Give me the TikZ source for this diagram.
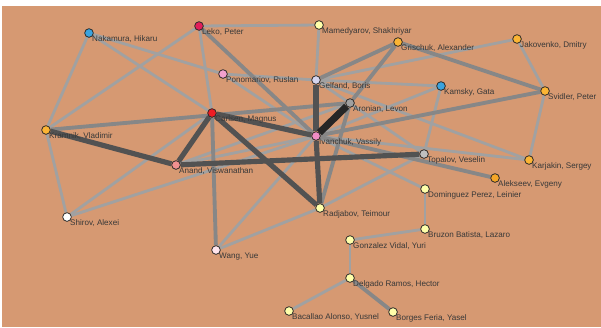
\documentclass[tikz,border=0pt]{standalone}
\usepackage{fontspec}
\usetikzlibrary{backgrounds}
\newfontfamily\labfont{Liberation Sans}
\definecolor{bgc}{RGB}{214,153,114}
\definecolor{lblue}{RGB}{59,163,222}
\definecolor{crim}{RGB}{226,30,90}
\definecolor{rred}{RGB}{238,28,36}
\definecolor{lyel}{RGB}{255,255,170}
\definecolor{oyel}{RGB}{251,180,52}
\definecolor{oran}{RGB}{245,166,40}
\definecolor{lpink}{RGB}{242,160,206}
\definecolor{mpink}{RGB}{240,140,196}
\definecolor{lilac}{RGB}{212,212,238}
\definecolor{mgrey}{RGB}{160,160,160}
\definecolor{lgrey}{RGB}{192,192,192}
\definecolor{salm}{RGB}{240,144,144}
\definecolor{wpink}{RGB}{255,228,236}

\begin{document}
\begin{tikzpicture}[x=0.03cm,y=-0.03cm]
    \tikzset{
    pl/.style={circle,minimum size=7.4pt,inner sep=0pt,draw=black!85,line width=0.65pt},
    lab/.style={anchor=base west,inner sep=0pt,text=black!78,font=\labfont\fontsize{6.9}{8}\selectfont},
    e1/.style={draw=black!37,line width=2.4pt},
    e2/.style={draw=black!47,line width=3.3pt},
    e3/.style={draw=black!68,line width=4.4pt},
    e4/.style={draw=black!85,line width=6pt},
    }
    \useasboundingbox (0,0) rectangle (601,327);

    \node[pl,fill=lblue] (nak) at (89,33) {};
    \node[pl,fill=crim] (leko) at (199,26) {};
    \node[pl,fill=lyel] (mame) at (319,25) {};
    \node[pl,fill=oyel] (gris) at (398,42) {};
    \node[pl,fill=oyel] (jako) at (517,39) {};
    \node[pl,fill=lpink] (pono) at (223,74) {};
    \node[pl,fill=lilac] (gelf) at (316,80) {};
    \node[pl,fill=lblue] (kams) at (441,86) {};
    \node[pl,fill=oyel] (svid) at (545,91) {};
    \node[pl,fill=mgrey] (aron) at (350,103) {};
    \node[pl,fill=rred] (carl) at (212,113) {};
    \node[pl,fill=oyel] (kram) at (46,130) {};
    \node[pl,fill=mpink] (ivan) at (316,136) {};
    \node[pl,fill=lgrey] (topa) at (424,154) {};
    \node[pl,fill=oyel] (karj) at (529,160) {};
    \node[pl,fill=salm] (anan) at (176,165) {};
    \node[pl,fill=oran] (alek) at (495,178) {};
    \node[pl,fill=lyel] (domi) at (425,189) {};
    \node[pl,fill=lyel] (radj) at (320,208) {};
    \node[pl,fill=white] (shir) at (67,217) {};
    \node[pl,fill=lyel] (bruz) at (425,229) {};
    \node[pl,fill=lyel] (gonz) at (350,240) {};
    \node[pl,fill=wpink] (wang) at (216,250) {};
    \node[pl,fill=lyel] (delg) at (350,278) {};
    \node[pl,fill=lyel] (baca) at (289,311) {};
    \node[pl,fill=lyel] (borg) at (393,312) {};

    \node[lab] (nakL) at (92,41) {Nakamura, Hikaru};
    \node[lab] (lekoL) at (202,34) {Leko, Peter};
    \node[lab] (mameL) at (322,33) {Mamedyarov, Shakhriyar};
    \node[lab] (grisL) at (401,50) {Grischuk, Alexander};
    \node[lab] (jakoL) at (520,47) {Jakovenko, Dmitry};
    \node[lab] (ponoL) at (226,82) {Ponomariov, Ruslan};
    \node[lab] (gelfL) at (319,88) {Gelfand, Boris};
    \node[lab] (kamsL) at (444,94) {Kamsky, Gata};
    \node[lab] (svidL) at (548,99) {Svidler, Peter};
    \node[lab] (aronL) at (353,111) {Aronian, Levon};
    \node[lab] (carlL) at (215,121) {Carlsen, Magnus};
    \node[lab] (kramL) at (49,138) {Kramnik, Vladimir};
    \node[lab] (ivanL) at (319,144) {Ivanchuk, Vassily};
    \node[lab] (topaL) at (427,162) {Topalov, Veselin};
    \node[lab] (karjL) at (532,168) {Karjakin, Sergey};
    \node[lab] (ananL) at (179,173) {Anand, Viswanathan};
    \node[lab] (alekL) at (498,186) {Alekseev, Evgeny};
    \node[lab] (domiL) at (428,197) {Dominguez Perez, Leinier};
    \node[lab] (radjL) at (323,216) {Radjabov, Teimour};
    \node[lab] (shirL) at (70,225) {Shirov, Alexei};
    \node[lab] (bruzL) at (428,237) {Bruzon Batista, Lazaro};
    \node[lab] (gonzL) at (353,248) {Gonzalez Vidal, Yuri};
    \node[lab] (wangL) at (219,258) {Wang, Yue};
    \node[lab] (delgL) at (353,286) {Delgado Ramos, Hector};
    \node[lab] (bacaL) at (292,319) {Bacallao Alonso, Yusnel};
    \node[lab] (borgL) at (396,320) {Borges Feria, Yasel};

    \begin{pgfonlayer}{background}
    \fill[bgc] (2,6) rectangle (601,327);
    % light
    \draw[e1] (nak) -- (kram);
    \draw[e1] (nak) -- (pono);
    \draw[e1] (nak) -- (carl);
    \draw[e1] (leko) -- (kram);
    \draw[e1] (leko) -- (carl);
    \draw[e1] (leko) -- (mame);
    \draw[e1] (pono) -- (gelf);
    \draw[e1] (pono) -- (ivan);
    \draw[e1] (mame) -- (gelf);
    \draw[e1] (gelf) -- (jako);
    \draw[e1] (gelf) -- (kams);
    \draw[e1] (gelf) -- (topa);
    \draw[e1] (gelf) -- (karj);
    \draw[e1] (jako) -- (svid);
    \draw[e1] (svid) -- (karj);
    \draw[e1] (kams) -- (topa);
    \draw[e1] (kams) -- (ivan);
    \draw[e1] (kram) -- (shir);
    \draw[e1] (shir) -- (carl);
    \draw[e1] (shir) -- (ivan);
    \draw[e1] (anan) -- (aron);
    \draw[e1] (anan) -- (ivan);
    \draw[e1] (ivan) -- (wang);
    \draw[e1] (wang) -- (radj);
    \draw[e1] (radj) -- (topa);
    \draw[e1] (ivan) -- (domi);
    \draw[e1] (ivan) -- (karj);
    \draw[e1] (domi) -- (bruz);
    \draw[e1] (bruz) -- (gonz);
    \draw[e1] (gonz) -- (delg);
    \draw[e1] (delg) -- (baca);
    % medium
    \draw[e2] (kram) -- (aron);
    \draw[e2] (leko) -- (ivan);
    \draw[e2] (gris) -- (gelf);
    \draw[e2] (gris) -- (aron);
    \draw[e2] (gris) -- (svid);
    \draw[e2] (svid) -- (ivan);
    \draw[e2] (ivan) -- (alek);
    \draw[e2] (aron) -- (radj);
    \draw[e2] (carl) -- (wang);
    \draw[e2] (delg) -- (borg);
    % dark
    \draw[e3] (kram) -- (anan);
    \draw[e3] (carl) -- (anan);
    \draw[e3] (carl) -- (ivan);
    \draw[e3] (anan) -- (topa);
    \draw[e3] (carl) -- (radj);
    \draw[e3] (gelf) -- (ivan);
    \draw[e3] (ivan) -- (radj);
    \draw[e4] (aron) -- (ivan);
    \end{pgfonlayer}
\end{tikzpicture}
\end{document}
